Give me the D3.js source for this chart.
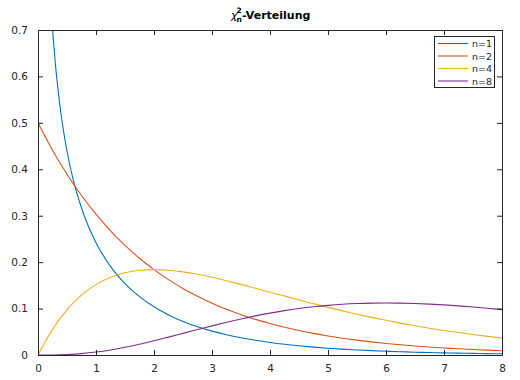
<!DOCTYPE html>
<html><head><meta charset="utf-8">
<script src="https://cdn.jsdelivr.net/npm/d3@7"></script>
<style>body{margin:0;background:#fff}svg{display:block}text{font-family:"DejaVu Sans",sans-serif}</style>
</head><body>
<svg id="c" width="520" height="380"></svg>
<script>
const xs = [0,0.25,0.5,0.75,1,1.25,1.5,1.75,2,2.25,2.5,2.75,3,3.25,3.5,3.75,4,4.25,4.5,4.75,5,5.25,5.5,5.75,6,6.25,6.5,6.75,7,7.25,7.5,7.75,8];
const xs1 = [0.1,0.15,0.2,0.25,0.3,0.4,0.5,0.6,0.75,1,1.25,1.5,1.75,2,2.25,2.5,2.75,3,3.25,3.5,3.75,4,4.25,4.5,4.75,5,5.25,5.5,5.75,6,6.25,6.5,6.75,7,7.25,7.5,7.75,8];
const n1 = [1.2000,0.9556,0.8072,0.7041,0.6269,0.5164,0.4394,0.3815,0.3166,0.2420,0.1910,0.1539,0.1257,0.1038,0.0863,0.0723,0.0608,0.0514,0.0436,0.0371,0.0316,0.0270,0.0231,0.0198,0.0170,0.0146,0.0126,0.0109,0.00939,0.00811,0.00701,0.00607,0.00525,0.00455,0.00395,0.00343,0.00297,0.00258];
const n2 = [0.5,0.4412,0.3894,0.3436,0.3033,0.2676,0.2362,0.2084,0.1839,0.1623,0.1433,0.1264,0.1116,0.0985,0.0869,0.0767,0.0677,0.0597,0.0527,0.0465,0.0410,0.0362,0.0320,0.0282,0.0249,0.0220,0.0194,0.0171,0.0151,0.0133,0.0118,0.0104,0.0092];
const n4 = [0,0.0552,0.0974,0.1289,0.1516,0.1673,0.1771,0.1824,0.1839,0.1826,0.1791,0.1738,0.1673,0.1600,0.1521,0.1438,0.1353,0.1269,0.1186,0.1105,0.1026,0.0951,0.0879,0.0811,0.0747,0.0687,0.0630,0.0577,0.0528,0.0483,0.0441,0.0402,0.0366];
const n8 = [0,0.000144,0.001014,0.003020,0.006318,0.010890,0.016607,0.023272,0.030657,0.038521,0.046632,0.054773,0.062755,0.070413,0.077610,0.084240,0.090224,0.095504,0.100047,0.103838,0.106882,0.109191,0.110793,0.111721,0.112021,0.111738,0.110920,0.109622,0.107891,0.105785,0.103350,0.100632,0.097685];
const labels = ["n=1","n=2","n=4","n=8"];
const colors = ["#0072BD","#D95319","#EDB120","#7E2F8E"];
const xTicks = [0,1,2,3,4,5,6,7,8];
const yTicks = [0,0.1,0.2,0.3,0.4,0.5,0.6,0.7];

const L=38, R=502, T=30, B=355;
const svg = d3.select("#c");
const x = d3.scaleLinear().domain([0,8]).range([L,R]);
const y = d3.scaleLinear().domain([0,0.7]).range([B,T]);

svg.append("defs").append("clipPath").attr("id","clip").append("rect")
  .attr("x",L).attr("y",T).attr("width",R-L).attr("height",B-T);

const series = [
  {xv:xs1, yv:n1}, {xv:xs, yv:n2}, {xv:xs, yv:n4}, {xv:xs, yv:n8}
];
const line = d3.line().x(d=>x(d[0])).y(d=>y(d[1])).curve(d3.curveMonotoneX);
const g = svg.append("g").attr("clip-path","url(#clip)");
series.forEach((s,i)=>{
  g.append("path").attr("d", line(s.xv.map((v,j)=>[v,s.yv[j]])))
    .attr("fill","none").attr("stroke",colors[i]).attr("stroke-width",1.1);
});

const tc = "#262626";
function styleAxis(sel, lab){
  sel.select(".domain").attr("stroke",tc);
  sel.selectAll(".tick line").attr("stroke",tc);
  sel.selectAll(".tick text").attr("fill",tc).style("font-size","10.5px")
    .style("font-family","'DejaVu Sans',sans-serif");
  if(!lab) sel.selectAll(".tick text").remove();
}
const ax = svg.append("g").attr("transform",`translate(0,${B})`)
  .call(d3.axisBottom(x).tickValues(xTicks).tickSize(-5).tickSizeOuter(0).tickPadding(10).tickFormat(d3.format("d")));
styleAxis(ax,true);
const ax2 = svg.append("g").attr("transform",`translate(0,${T})`)
  .call(d3.axisTop(x).tickValues(xTicks).tickSize(-5).tickSizeOuter(0));
styleAxis(ax2,false);
const ay = svg.append("g").attr("transform",`translate(${L},0)`)
  .call(d3.axisLeft(y).tickValues(yTicks).tickSize(-5).tickSizeOuter(0).tickPadding(10).tickFormat(d=>d===0?"0":d3.format(".1f")(d)));
styleAxis(ay,true);
const ay2 = svg.append("g").attr("transform",`translate(${R},0)`)
  .call(d3.axisRight(y).tickValues(yTicks).tickSize(-5).tickSizeOuter(0));
styleAxis(ay2,false);

// title
const tt = svg.append("g").attr("fill","#000");
tt.append("text").attr("x",231).attr("y",19).attr("font-style","italic").attr("font-size","11px").text("χ");
tt.append("text").attr("x",236.5).attr("y",13).attr("font-weight","bold").attr("font-size","7.5px").text("2");
tt.append("text").attr("x",236.5).attr("y",22).attr("font-weight","bold").attr("font-size","7.5px").text("n");
tt.append("text").attr("x",242).attr("y",19).attr("font-weight","bold").attr("font-size","11px").text("-Verteilung");

// legend
const lg = svg.append("g");
lg.append("rect").attr("x",434.5).attr("y",36.5).attr("width",60).attr("height",51)
  .attr("fill","#fff").attr("stroke",tc).attr("stroke-width",1);
labels.forEach((lb,i)=>{
  const yy = 43.5 + i*12.5;
  lg.append("line").attr("x1",438).attr("x2",468).attr("y1",yy).attr("y2",yy)
    .attr("stroke",colors[i]).attr("stroke-width",1.1);
  lg.append("text").attr("x",472).attr("y",yy+3.5).attr("font-size","9.5px").attr("fill",tc).text(lb);
});
</script>
</body></html>
